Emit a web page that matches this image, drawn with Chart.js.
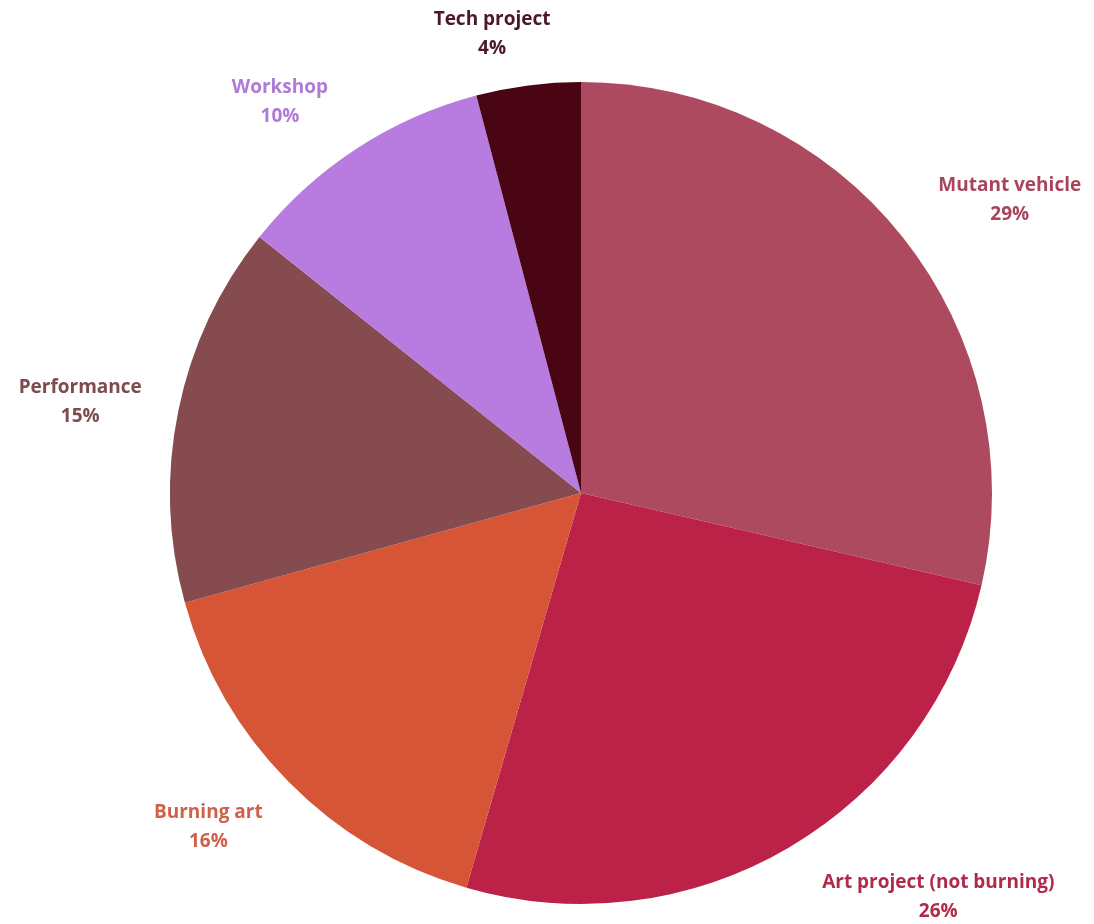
<!DOCTYPE html>
<html>
<head>
<meta charset="utf-8">
<script src="https://cdn.jsdelivr.net/npm/chart.js@4/dist/chart.umd.min.js"></script>
<style>
  html, body { margin: 0; padding: 0; background: #fff; }
  #wrap { width: 1094px; height: 924px; }
</style>
</head>
<body>
<div id="wrap"><canvas id="projectChart" width="1094" height="924"></canvas></div>
<script>
const categories = ["Mutant vehicle", "Art project (not burning)", "Burning art", "Performance", "Workshop", "Tech project"];
const shares = [28.6, 25.9, 16.2, 15.0, 10.2, 4.1];

const sliceColors = ["#AE4A60", "#BC2148", "#D65537", "#854B4E", "#B87BDF", "#4A0515"];
const labelColors = ["#A8455C", "#B02A4A", "#D0604A", "#7E4A4E", "#B07AD8", "#4A1826"];

// label placement tweaks (degrees nudge, distance as fraction of radius)
const labelNudge = [4.2, -11.0, 2.7, -1.3, -4.5, -3.6];
const labelDist = [1.263, 1.314, 1.219, 1.238, 1.2, 1.136];

const outsideLabels = {
  id: "outsideLabels",
  afterDatasetsDraw(chart) {
    const { ctx } = chart;
    const meta = chart.getDatasetMeta(0);
    const total = shares.reduce((a, b) => a + b, 0);
    ctx.save();
    ctx.font = "bold 19px 'Open Sans', sans-serif";
    ctx.textAlign = "center";
    ctx.textBaseline = "middle";
    meta.data.forEach((arc, i) => {
      const mid = (arc.startAngle + arc.endAngle) / 2 + labelNudge[i] * Math.PI / 180;
      const d = arc.outerRadius * labelDist[i];
      const x = arc.x + Math.cos(mid) * d;
      const y = arc.y + Math.sin(mid) * d;
      ctx.fillStyle = labelColors[i];
      ctx.fillText(categories[i], x, y - 15);
      ctx.fillText(Math.round(shares[i] / total * 100) + "%", x, y + 14);
    });
    ctx.restore();
  }
};

new Chart(document.getElementById("projectChart"), {
  type: "pie",
  data: {
    labels: categories,
    datasets: [{
      data: shares,
      backgroundColor: sliceColors,
      borderWidth: 0
    }]
  },
  options: {
    responsive: false,
    animation: false,
    layout: { padding: { left: 170, right: 102, top: 82, bottom: 20 } },
    plugins: {
      legend: { display: false },
      tooltip: { enabled: false }
    }
  },
  plugins: [outsideLabels]
});
</script>
</body>
</html>
